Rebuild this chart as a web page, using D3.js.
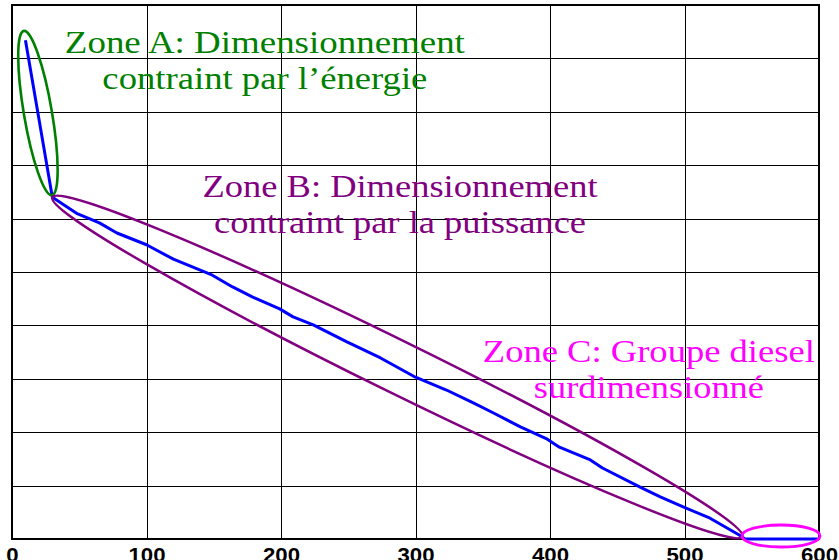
<!DOCTYPE html>
<html>
<head>
<meta charset="utf-8">
<script src="https://cdn.jsdelivr.net/npm/d3@7"></script>
<style>
  html, body { margin: 0; padding: 0; background: #fff; }
  svg { display: block; }
</style>
</head>
<body>
<svg id="chart" width="839" height="560"></svg>
<script>
// Diesel generator rating (x) against the sizing curve (y, grid units)
const xTicks = [0, 100, 200, 300, 400, 500, 600];
const yTicks = [0, 1, 2, 3, 4, 5, 6, 7, 8, 9, 10];

const powerValues = [10, 30, 48, 65, 78, 100, 120, 149, 164, 179, 199, 209, 224, 249, 274,
                     300, 323, 343, 358, 378, 398, 407, 430, 439, 467, 482, 499, 519, 541, 545, 600];
const curveValues = [9.34, 6.40, 6.10, 5.92, 5.73, 5.51, 5.24, 4.94, 4.72, 4.53, 4.31, 4.16, 4.01, 3.69, 3.39,
                     3.03, 2.79, 2.55, 2.36, 2.10, 1.87, 1.72, 1.48, 1.33, 0.97, 0.79, 0.60, 0.39, 0.07, 0, 0];

// Zones of the curve: first and last point index of each
const zoneNames = ["A", "B", "C"];
const zoneStart = [0, 1, 29];
const zoneEnd = [1, 28, 30];
const zoneLines = [
  ["Zone A: Dimensionnement", "contraint par l\u2019énergie"],
  ["Zone B: Dimensionnement", "contraint par la puissance"],
  ["Zone C: Groupe diesel", "surdimensionné"]
];
// label anchor (centre x, first baseline y) in data units
const zoneLabelX = [188, 288.5, 473.5];
const zoneLabelY = [9.1, 6.4, 3.31];

// ---- layout & styles ----
const M = { left: 12, top: 5, right: 20, bottom: 21 };
const W = 839, H = 560;
const colors = { A: "#008000", B: "#800080", C: "#ff00ff", curve: "#0000ff" };
const ellipseStyle = {
  A: { padStart: 9.5, padEnd: -2, ry: 14, shift: 0, width: 2.6 },
  B: { padStart: 0, padEnd: 3, ry: 26, shift: 0, width: 2.5 },
  C: { padStart: 3, padEnd: 1, ry: 11, shift: -3, width: 2.8 }
};
const labelWidths = [[400, 325], [395, 372], [332, 230]];
const lineGap = 35.5;

const svg = d3.select("#chart");
const x = d3.scaleLinear().domain([0, 600]).range([M.left, W - M.right]);
const y = d3.scaleLinear().domain([0, 10]).range([H - M.bottom, M.top]);

svg.append("rect").attr("width", W).attr("height", H).attr("fill", "#fff");

// grid
const grid = svg.append("g").attr("stroke", "#000").attr("stroke-width", 1).attr("shape-rendering", "crispEdges");
grid.selectAll(".vx").data(xTicks).join("line")
  .attr("x1", d => Math.round(x(d)) + 0.5).attr("x2", d => Math.round(x(d)) + 0.5)
  .attr("y1", y(10)).attr("y2", y(0));
grid.selectAll(".hy").data(yTicks).join("line")
  .attr("y1", d => Math.round(y(d)) + 0.5).attr("y2", d => Math.round(y(d)) + 0.5)
  .attr("x1", x(0)).attr("x2", x(600));

// frame
svg.append("rect")
  .attr("x", x(0)).attr("y", y(10))
  .attr("width", x(600) - x(0)).attr("height", y(0) - y(10))
  .attr("fill", "none").attr("stroke", "#000").attr("stroke-width", 2);

// x axis labels
const xAxis = svg.append("g")
  .attr("transform", `translate(0,${y(0)})`)
  .call(d3.axisBottom(x).tickValues(xTicks).tickSize(0).tickPadding(9).tickFormat(d3.format("d")));
xAxis.select(".domain").remove();
xAxis.selectAll("text")
  .attr("fill", "#000")
  .style("font-family", "'Liberation Sans', Arial, sans-serif")
  .style("font-weight", "bold")
  .style("font-size", "20px")
  .attr("transform", "scale(1.11,1)");

// curve
const pts = powerValues.map((p, i) => [x(p), y(curveValues[i])]);
svg.append("path")
  .datum(powerValues.map((p, i) => ({ p, v: curveValues[i] })))
  .attr("fill", "none")
  .attr("stroke", colors.curve)
  .attr("stroke-width", 3)
  .attr("stroke-linejoin", "round")
  .attr("d", d3.line().x(d => x(d.p)).y(d => y(d.v)));

// zone ellipses, built around each zone's stretch of the curve
zoneNames.forEach((z, i) => {
  const st = ellipseStyle[z];
  const p0 = pts[zoneStart[i]], p1 = pts[zoneEnd[i]];
  const dx = p1[0] - p0[0], dy = p1[1] - p0[1];
  const len = Math.hypot(dx, dy);
  const ux = dx / len, uy = dy / len;
  const a = [p0[0] - ux * st.padStart, p0[1] - uy * st.padStart];
  const b = [p1[0] + ux * st.padEnd, p1[1] + uy * st.padEnd];
  const cx = (a[0] + b[0]) / 2, cy = (a[1] + b[1]) / 2 + st.shift;
  const rx = Math.hypot(b[0] - a[0], b[1] - a[1]) / 2;
  const ang = Math.atan2(uy, ux) * 180 / Math.PI;
  svg.append("ellipse")
    .attr("cx", 0).attr("cy", 0).attr("rx", rx).attr("ry", st.ry)
    .attr("transform", `translate(${cx},${cy}) rotate(${ang})`)
    .attr("fill", "none").attr("stroke", colors[z]).attr("stroke-width", st.width);
});

// zone labels
zoneNames.forEach((z, i) => {
  const g = svg.append("g");
  zoneLines[i].forEach((t, j) => {
    g.append("text")
      .attr("x", x(zoneLabelX[i]))
      .attr("y", y(zoneLabelY[i]) + j * lineGap)
      .attr("text-anchor", "middle")
      .attr("textLength", labelWidths[i][j])
      .attr("lengthAdjust", "spacingAndGlyphs")
      .attr("fill", colors[z])
      .style("font-family", "'Liberation Serif', 'Times New Roman', serif")
      .style("font-size", "32px")
      .text(t);
  });
});
</script>
</body>
</html>
